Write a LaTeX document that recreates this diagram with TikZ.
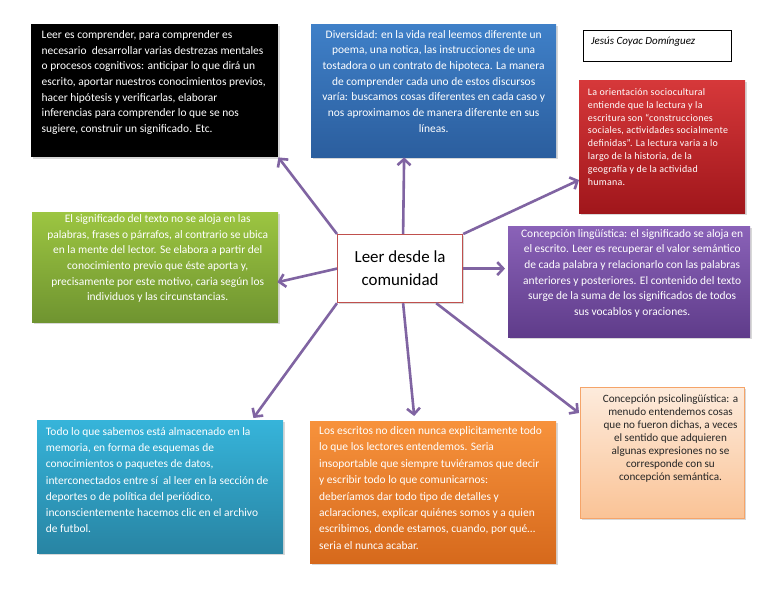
\documentclass[tikz,border=0pt]{standalone}
\usepackage{fontspec}
\setmainfont{Carlito}
\newfontfamily\spacedfont{Carlito}[LetterSpace=2.5]
\usetikzlibrary{arrows.meta,calc,shadows}
\definecolor{linkc}{HTML}{8064A2}
\definecolor{ctrline}{HTML}{C0504D}
\definecolor{blutop}{HTML}{3F80C8}\definecolor{blubot}{HTML}{2B5E9E}
\definecolor{redtop}{HTML}{D6383A}\definecolor{redbot}{HTML}{A0161B}
\definecolor{grntop}{HTML}{9CC541}\definecolor{grnbot}{HTML}{6F9430}
\definecolor{purtop}{HTML}{8A62B8}\definecolor{purbot}{HTML}{5F3C8A}
\definecolor{cyntop}{HTML}{36B4DA}\definecolor{cynbot}{HTML}{2884A3}
\definecolor{orgtop}{HTML}{F7923C}\definecolor{orgbot}{HTML}{D6691C}
\definecolor{pchtop}{HTML}{FDEBDC}\definecolor{pchbot}{HTML}{FAC396}
\definecolor{pchline}{HTML}{F5A469}
\begin{document}
\begin{tikzpicture}[x=1bp,y=-1bp,
  card/.style={anchor=north west,inner sep=0pt,drop shadow={shadow xshift=1.5bp,shadow yshift=-1.5bp,opacity=.3}},
  txt/.style={inner sep=0pt,text=white,font=\fontsize{11.5}{15.7}\selectfont},
  link/.style={draw=linkc,line width=2.6bp,-{Straight Barb[length=6bp,width=13bp]}}]
\useasboundingbox[fill=white] (0,0) rectangle (768,594);
\node[card,fill=black,minimum width=247bp,minimum height=133bp] (blk) at (31,24) {};
\node[txt,anchor=north west,align=left] (blk-t) at ([xshift=10.5bp,yshift=-6.5bp]blk.north west) {Leer es comprender, para comprender es\\necesario\ \ desarrollar varias destrezas mentales\\o procesos cognitivos: anticipar lo que dirá un\\escrito, aportar nuestros conocimientos previos,\\hacer hipótesis y verificarlas, elaborar\\inferencias para comprender lo que se nos\\sugiere, construir un significado. Etc.};
\node[card,top color=blutop,bottom color=blubot,minimum width=245bp,minimum height=133bp] (blu) at (311,24) {};
\node[txt,anchor=north,align=center] (blu-t) at ([yshift=-6bp]blu.north) {Diversidad: en la vida real leemos diferente un\\poema, una notica, las instrucciones de una\\tostadora o un contrato de hipoteca. La manera\\de comprender cada uno de estos discursos\\varía: buscamos cosas diferentes en cada caso y\\nos aproximamos de manera diferente en sus\\líneas.};
\node[draw,line width=1bp,anchor=north west,minimum width=148bp,minimum height=31bp] (auth) at (583,30) {};
\node[anchor=north west,inner sep=0pt,font=\fontsize{11}{13}\selectfont\itshape] (auth-t) at ([xshift=8bp,yshift=-7bp]auth.north west) {Jesús Coyac Domínguez};
\node[card,top color=redtop,bottom color=redbot,minimum width=166bp,minimum height=133bp] (red) at (579,80) {};
\node[txt,anchor=north west,align=left,font=\spacedfont\fontsize{10}{13}\selectfont] (red-t) at ([xshift=8.7bp,yshift=-8bp]red.north west) {La orientación sociocultural\\entiende que la lectura y la\\escritura son “construcciones\\sociales, actividades socialmente\\definidas”. La lectura varia a lo\\largo de la historia, de la\\geografía y de la actividad\\humana.};
\node[card,top color=grntop,bottom color=grnbot,minimum width=246bp,minimum height=110bp] (grn) at (32,212) {};
\node[txt,anchor=north,align=center] (grn-t) at ([xshift=2.5bp,yshift=-2.5bp]grn.north) {El significado del texto no se aloja en las\\palabras, frases o párrafos, al contrario se ubica\\en la mente del lector. Se elabora a partir del\\conocimiento previo que éste aporta y,\\precisamente por este motivo, caria según los\\individuos y las circunstancias.};
\node[card,fill=white,draw=ctrline,line width=1.2bp,minimum width=125bp,minimum height=68bp,align=center,font=\fontsize{17}{23}\selectfont] (ctr) at (337,234) {Leer desde la\\comunidad};
\node[card,top color=purtop,bottom color=purbot,minimum width=242bp,minimum height=111bp] (pur) at (508,226) {};
\node[txt,anchor=north,align=center] (pur-t) at ([xshift=3bp,yshift=-3bp]pur.north) {Concepción lingüística: el significado se aloja en\\el escrito. Leer es recuperar el valor semántico\\de cada palabra y relacionarlo con las palabras\\anteriores y posteriores. El contenido del texto\\surge de la suma de los significados de todos\\sus vocablos y oraciones.};
\node[card,top color=cyntop,bottom color=cynbot,minimum width=246bp,minimum height=133bp] (cyn) at (37,420) {};
\node[txt,anchor=north west,align=left,font=\fontsize{11.5}{16.2}\selectfont] (cyn-t) at ([xshift=8.7bp,yshift=-7.5bp]cyn.north west) {Todo lo que sabemos está almacenado en la\\memoria, en forma de esquemas de\\conocimientos o paquetes de datos,\\interconectados entre sí\ \ al leer en la sección de\\deportes o de política del periódico,\\inconscientemente hacemos clic en el archivo\\de futbol.};
\node[card,top color=orgtop,bottom color=orgbot,minimum width=246bp,minimum height=142bp] (org) at (310,421) {};
\node[txt,anchor=north west,align=left,font=\fontsize{11.5}{16.4}\selectfont] (org-t) at ([xshift=9bp,yshift=-5.5bp]org.north west) {Los escritos no dicen nunca explicitamente todo\\lo que los lectores entendemos. Seria\\insoportable que siempre tuviéramos que decir\\y escribir todo lo que comunicarnos:\\deberíamos dar todo tipo de detalles y\\aclaraciones, explicar quiénes somos y a quien\\escribimos, donde estamos, cuando, por qué…\\seria el nunca acabar.};
\node[card,top color=pchtop,bottom color=pchbot,draw=pchline,line width=1bp,minimum width=164bp,minimum height=131bp] (pch) at (580,387) {};
\node[txt,anchor=north,align=center,text=black!85,font=\fontsize{11.2}{13}\selectfont] (pch-t) at ([xshift=8bp,yshift=-7.5bp]pch.north) {Concepción psicolingüística: a\\menudo entendemos cosas\\que no fueron dichas, a veces\\el sentido que adquieren\\algunas expresiones no se\\corresponde con su\\concepción semántica.};
\coordinate (to-blu) at ($(ctr.north |- blu.south)+(4,0)$);
\coordinate (fr-blu) at ($(ctr.north)+(3,0)$);
\coordinate (to-red) at ($(red.south west)!.25!(red.north west)$);
\coordinate (to-pur) at ($(ctr.east -| pur.west)+(-3,0)$);
\coordinate (to-grn) at ($(grn.east)+(-1,15)$);
\coordinate (to-cyn) at ($(cyn.north east)+(-30,-2)$);
\coordinate (fr-org) at ($(ctr.south)+(3,0)$);
\coordinate (to-org) at ($(org.north)+(-19,-5)$);
\coordinate (fr-pch) at ($(ctr.south east)+(-27,0)$);
\coordinate (to-pch) at ($(pch.north west)+(-1,26)$);
\foreach \s/\e in {ctr.north west/blk.south east,fr-blu/to-blu,ctr.north east/to-red,ctr.east/to-pur,ctr.west/to-grn,ctr.south west/to-cyn,fr-org/to-org,fr-pch/to-pch}
  \draw[link] (\s) -- (\e);
\end{tikzpicture}
\end{document}
